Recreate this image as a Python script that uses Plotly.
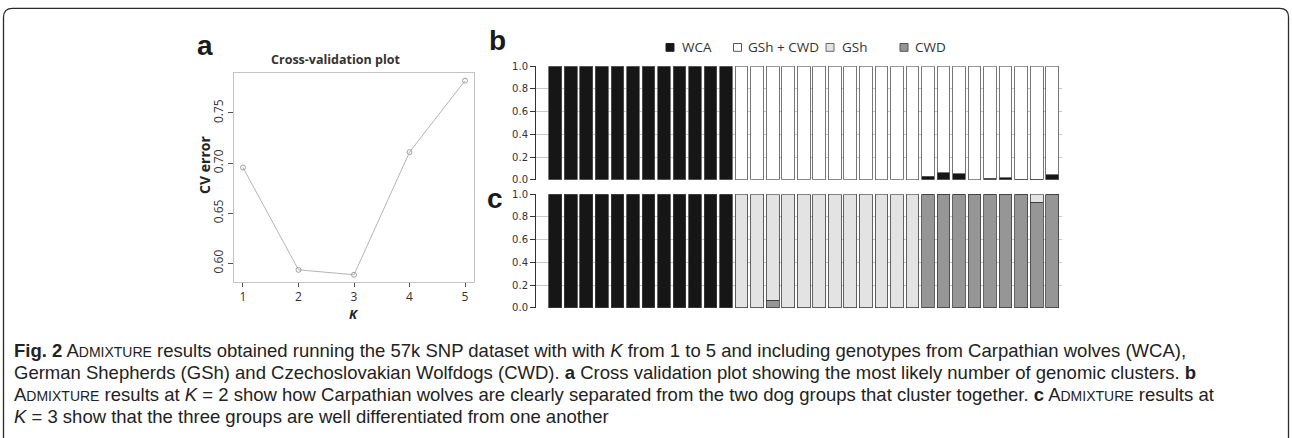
import plotly.graph_objects as go

W, H = 1292, 438

# ---------------- data ----------------
k_values = [1, 2, 3, 4, 5]
cv_error = [0.6956, 0.5935, 0.5886, 0.7109, 0.7822]

individuals = [
    "WCA01", "WCA02", "WCA03", "WCA04", "WCA05", "WCA06", "WCA07", "WCA08", "WCA09", "WCA10", "WCA11", "WCA12",
    "GSh01", "GSh02", "GSh03", "GSh04", "GSh05", "GSh06", "GSh07", "GSh08", "GSh09", "GSh10", "GSh11", "GSh12",
    "CWD01", "CWD02", "CWD03", "CWD04", "CWD05", "CWD06", "CWD07", "CWD08", "CWD09",
]

# K = 2
k2_wca = [1, 1, 1, 1, 1, 1, 1, 1, 1, 1, 1, 1,
          0, 0, 0, 0, 0, 0, 0, 0, 0, 0, 0, 0,
          0.03, 0.062, 0.055, 0.0, 0.012, 0.016, 0.005, 0.005, 0.045]
k2_gsh_cwd = [0, 0, 0, 0, 0, 0, 0, 0, 0, 0, 0, 0,
              1, 1, 1, 1, 1, 1, 1, 1, 1, 1, 1, 1,
              0.97, 0.938, 0.945, 1.0, 0.988, 0.984, 0.995, 0.995, 0.955]

# K = 3
k3_wca = [1, 1, 1, 1, 1, 1, 1, 1, 1, 1, 1, 1,
          0, 0, 0, 0, 0, 0, 0, 0, 0, 0, 0, 0,
          0, 0, 0, 0, 0, 0, 0, 0, 0]
k3_cwd = [0, 0, 0, 0, 0, 0, 0, 0, 0, 0, 0, 0,
          0, 0, 0.065, 0, 0, 0, 0, 0, 0, 0, 0, 0,
          1, 1, 1, 1, 1, 1, 1, 0.93, 1]
k3_gsh = [0, 0, 0, 0, 0, 0, 0, 0, 0, 0, 0, 0,
          1, 1, 0.935, 1, 1, 1, 1, 1, 1, 1, 1, 1,
          0, 0, 0, 0, 0, 0, 0, 0.07, 0]

legend_names = ["WCA", "GSh + CWD", "GSh", "CWD"]

q_ticks = [0.0, 0.2, 0.4, 0.6, 0.8, 1.0]
q_ticktext = ["0.0", "0.2", "0.4", "0.6", "0.8", "1.0"]
cv_ticks = [0.60, 0.65, 0.70, 0.75]
cv_ticktext = ["0.60", "0.65", "0.70", "0.75"]

C_WCA, C_GSHCWD, C_GSH, C_CWD = "#161616", "#ffffff", "#e3e3e3", "#969696"
EDGE = "#3c3c3c"


def px_x(p):
    return p / W


def px_y(p):
    return 1 - p / H


fig = go.Figure()

# ---------------- panel a ----------------
fig.add_trace(go.Scatter(
    x=k_values, y=cv_error, mode="lines+markers",
    line=dict(color="#b4b4b4", width=1),
    marker=dict(symbol="circle-open", size=5, color="#a0a0a0", line=dict(width=1)),
    xaxis="x", yaxis="y", showlegend=False, hoverinfo="x+y"))

# ---------------- panel b ----------------
bar_line = dict(color=EDGE, width=0.8)
fig.add_trace(go.Bar(x=individuals, y=k2_wca, name="WCA", marker=dict(color=C_WCA, line=dict(color="#555555", width=0.8)),
                     xaxis="x2", yaxis="y2", showlegend=False))
fig.add_trace(go.Bar(x=individuals, y=k2_gsh_cwd, name="GSh + CWD", marker=dict(color=C_GSHCWD, line=dict(color="#555555", width=0.8)),
                     xaxis="x2", yaxis="y2", showlegend=False))

# ---------------- panel c ----------------
fig.add_trace(go.Bar(x=individuals, y=k3_wca, name="WCA", marker=dict(color=C_WCA, line=bar_line),
                     xaxis="x3", yaxis="y3", showlegend=False))
fig.add_trace(go.Bar(x=individuals, y=k3_cwd, name="CWD", marker=dict(color=C_CWD, line=bar_line),
                     xaxis="x3", yaxis="y3", showlegend=False))
fig.add_trace(go.Bar(x=individuals, y=k3_gsh, name="GSh", marker=dict(color=C_GSH, line=bar_line),
                     xaxis="x3", yaxis="y3", showlegend=False))

tickfont_a = dict(family="Open Sans", size=12, color="#333333")
tickfont_bc = dict(family="DejaVu Sans", size=10, color="#333333")

bar_xdom = [px_x(536), px_x(1062)]
bar_xrange = [-1.24, 32.63]

fig.update_layout(
    width=W, height=H,
    margin=dict(l=0, r=0, t=0, b=0),
    paper_bgcolor="white", plot_bgcolor="white",
    barmode="stack", bargap=0.18,
    showlegend=False,
    xaxis=dict(domain=[px_x(234), px_x(474)], range=[0.838, 5.162], tickvals=k_values,
               ticks="outside", ticklen=4, tickcolor="#555555", tickfont=tickfont_a,
               showline=True, mirror=True, linecolor="#c4c4c4", linewidth=1,
               showgrid=False, zeroline=False, anchor="y"),
    yaxis=dict(domain=[px_y(284), px_y(70)], range=[0.5815, 0.7896], tickvals=cv_ticks, ticktext=cv_ticktext,
               tickangle=-90, ticks="outside", ticklen=5, tickcolor="#555555", tickfont=tickfont_a,
               showline=True, mirror=True, linecolor="#c4c4c4", linewidth=1,
               showgrid=False, zeroline=False, anchor="x"),
    xaxis2=dict(domain=bar_xdom, range=bar_xrange, type="category", showticklabels=False,
                showline=False, showgrid=False, zeroline=False, ticks="", anchor="y2"),
    yaxis2=dict(domain=[px_y(179.3), px_y(62.7)], range=[0, 1], tickvals=q_ticks, ticktext=q_ticktext,
                ticks="outside", ticklen=5, tickcolor="#333333", tickfont=tickfont_bc,
                showline=True, linecolor="#333333", linewidth=1,
                showgrid=True, gridcolor="#c8c8c8", gridwidth=1, zeroline=False, anchor="x2"),
    xaxis3=dict(domain=bar_xdom, range=bar_xrange, type="category", showticklabels=False,
                showline=False, showgrid=False, zeroline=False, ticks="", anchor="y3"),
    yaxis3=dict(domain=[px_y(310.7), px_y(194)], range=[0, 1], tickvals=q_ticks, ticktext=q_ticktext,
                ticks="outside", ticklen=5, tickcolor="#333333", tickfont=tickfont_bc,
                showline=True, linecolor="#333333", linewidth=1,
                showgrid=True, gridcolor="#c8c8c8", gridwidth=1, zeroline=False, anchor="x3"),
)

ann = []
shapes = []


def add_text(text, x, y, size, family="Liberation Sans", color="#1a1a1a", xanchor="center", angle=0):
    ann.append(dict(text=text, x=px_x(x), y=px_y(y), xref="paper", yref="paper", showarrow=False,
                    xanchor=xanchor, yanchor="middle", textangle=angle,
                    font=dict(family=family, size=size, color=color)))


# panel letters
add_text("<b>a</b>", 205, 42, 28)
add_text("<b>b</b>", 497, 36, 28)
add_text("<b>c</b>", 495, 198, 28)

# panel a labels
add_text("<b>Cross-validation plot</b>", 335, 56, 12.5, family="Open Sans", color="#333333")
add_text("<b>CV error</b>", 205, 164, 14, family="Open Sans", color="#222222", angle=-90)
add_text("<b><i>K</i></b>", 354, 317, 13, family="Open Sans", color="#222222")

# legend (key squares + labels) for panels b and c
leg_fill = [C_WCA, C_GSHCWD, C_GSH, C_CWD]
leg_edge = ["#222222", "#555555", "#666666", "#555555"]
leg_box_x = [666, 733.5, 826, 900]
leg_text_x = [680, 746, 840, 913]
for nm, fc, ec, bx, tx in zip(legend_names, leg_fill, leg_edge, leg_box_x, leg_text_x):
    shapes.append(dict(type="rect", xref="paper", yref="paper",
                       x0=px_x(bx), x1=px_x(bx + 8), y0=px_y(47.5), y1=px_y(39.5),
                       fillcolor=fc, line=dict(color=ec, width=1)))
    add_text(nm, tx, 43.5, 13.5, family="Open Sans", color="#333333", xanchor="left")

# caption (one text block, 4 lines)
sc = "<span style='font-size:14px'>DMIXTURE</span>"
cap_lines = [
    "<b>Fig. 2</b> A" + sc + " results obtained running the 57k SNP dataset with with <i>K</i> from 1 to 5 and including genotypes from Carpathian wolves (WCA),",
    "German Shepherds (GSh) and Czechoslovakian Wolfdogs (CWD). <b>a</b> Cross validation plot showing the most likely number of genomic clusters. <b>b</b>",
    "A" + sc + " results at <i>K</i> = 2 show how Carpathian wolves are clearly separated from the two dog groups that cluster together. <b>c</b> A" + sc + " results at",
    "<i>K</i> = 3 show that the three groups are well differentiated from one another",
]
caption = "<br>".join("<span style='font-size:18.5px'>" + ln + "</span>" for ln in cap_lines)
ann.append(dict(text=caption, x=px_x(12), y=px_y(388), xref="paper", yref="paper", showarrow=False,
                xanchor="left", yanchor="middle", align="left",
                font=dict(family="Liberation Sans", size=17, color="#222222")))

# rounded figure frame
L, T, R, B, r = 3.5, 3.5, 1288.5, 445, 9
path = (f"M {px_x(L)},{px_y(B)} L {px_x(L)},{px_y(T + r)} "
        f"Q {px_x(L)},{px_y(T)} {px_x(L + r)},{px_y(T)} "
        f"L {px_x(R - r)},{px_y(T)} Q {px_x(R)},{px_y(T)} {px_x(R)},{px_y(T + r)} "
        f"L {px_x(R)},{px_y(B)}")
shapes.append(dict(type="path", path=path, xref="paper", yref="paper",
                   line=dict(color="#2a2a2a", width=1.3)))

fig.update_layout(annotations=ann, shapes=shapes)

fig.write_html("out.html", config={"displayModeBar": False},
               post_script="document.body.style.margin='0';document.body.style.overflow='hidden';")
